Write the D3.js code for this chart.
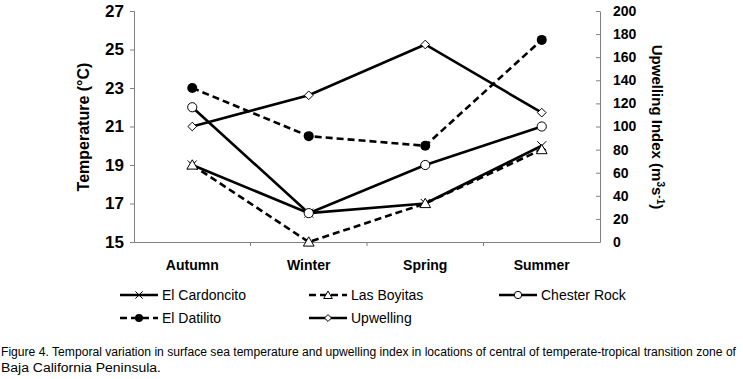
<!DOCTYPE html>
<html><head><meta charset="utf-8">
<script src="https://cdn.jsdelivr.net/npm/d3@7"></script>
<style>
body{margin:0;background:#fff;}
svg{display:block;}
</style></head>
<body>
<svg id="chart" width="743" height="379"></svg>
<script>
const seasons = ["Autumn","Winter","Spring","Summer"];
const elCardoncito = [19, 16.5, 17, 20];
const lasBoyitas = [19, 15, 17, 19.8];
const chesterRock = [22, 16.5, 19, 21];
const elDatilito = [23, 20.5, 20, 25.5];
const upwelling = [100, 127, 171, 112];
const tempTicks = [15,17,19,21,23,25,27];
const upTicks = [0,20,40,60,80,100,120,140,160,180,200];

const svg = d3.select("#chart");
const pLeft = 134, pRight = 600, pTop = 11, pBottom = 242;
const x = d3.scaleBand().domain(seasons).range([pLeft,pRight]);
const yT = d3.scaleLinear().domain([15,27]).range([pBottom,pTop]);
const yU = d3.scaleLinear().domain([0,200]).range([pBottom,pTop]);
const bold = "Liberation Sans, Arial, sans-serif";

// axes
const gL = svg.append("g").attr("transform",`translate(${pLeft},0)`)
  .call(d3.axisLeft(yT).tickValues(tempTicks).tickSize(4).tickPadding(6));
gL.selectAll("text").attr("font-family",bold).attr("font-weight","bold").attr("font-size",17).attr("fill","#000");
const gR = svg.append("g").attr("transform",`translate(${pRight},0)`)
  .call(d3.axisRight(yU).tickValues(upTicks).tickSize(0).tickPadding(13));
gR.selectAll(".tick").append("line").attr("x1",-4).attr("x2",0).attr("stroke","#808080");
gR.selectAll("text").attr("font-family",bold).attr("font-weight","bold").attr("font-size",14).attr("fill","#000");
const gB = svg.append("g").attr("transform",`translate(0,${pBottom})`)
  .call(d3.axisBottom(x).tickSize(0).tickPadding(18));
gB.selectAll("text").attr("font-family",bold).attr("font-weight","bold").attr("font-size",14).attr("fill","#000");
gB.selectAll(".bt").data(seasons.slice(1)).enter().append("line")
  .attr("x1",d=>x(d)).attr("x2",d=>x(d)).attr("y1",0).attr("y2",4).attr("stroke","#808080");
[gL,gR,gB].forEach(g=>{g.select(".domain").attr("stroke","#808080");g.selectAll(".tick line").attr("stroke","#808080");});

// axis titles
svg.append("text").attr("transform","translate(89,127) rotate(-90)").attr("text-anchor","middle")
  .attr("font-family",bold).attr("font-weight","bold").attr("font-size",16).text("Temperature (°C)");
const ut = svg.append("text").attr("transform","translate(652,127) rotate(90)").attr("text-anchor","middle")
  .attr("font-family",bold).attr("font-weight","bold").attr("font-size",15);
ut.append("tspan").text("Upwelling Index (m");
ut.append("tspan").attr("font-size",10).attr("dy",-5).text("3");
ut.append("tspan").attr("font-size",15).attr("dy",5).text("s");
ut.append("tspan").attr("font-size",10).attr("dy",-5).text("-1");
ut.append("tspan").attr("font-size",15).attr("dy",5).text(")");

const cx = d => x(d) + x.bandwidth()/2;
const series = [
  {name:"El Cardoncito", vals:elCardoncito, scale:yT, dash:null, marker:"x"},
  {name:"Las Boyitas", vals:lasBoyitas, scale:yT, dash:"7,4", marker:"tri"},
  {name:"Chester Rock", vals:chesterRock, scale:yT, dash:null, marker:"circle"},
  {name:"El Datilito", vals:elDatilito, scale:yT, dash:"7,4", marker:"dot"},
  {name:"Upwelling", vals:upwelling, scale:yU, dash:null, marker:"diamond"}
];

function drawMarker(g, type, px, py, s){
  s = s || 1;
  if(type==="x"){
    g.append("path").attr("d",`M${px-4.5*s},${py-4.5*s}L${px+4.5*s},${py+4.5*s}M${px-4.5*s},${py+4.5*s}L${px+4.5*s},${py-4.5*s}`)
      .attr("stroke","#000").attr("stroke-width",1);
  } else if(type==="tri"){
    g.append("path").attr("d",d3.symbol(d3.symbolTriangle, 50*s*s)()).attr("transform",`translate(${px},${py+1})`)
      .attr("fill","#fff").attr("stroke","#000").attr("stroke-width",1);
  } else if(type==="circle"){
    g.append("circle").attr("cx",px).attr("cy",py).attr("r",4.6*s).attr("fill","#fff").attr("stroke","#000").attr("stroke-width",1);
  } else if(type==="dot"){
    g.append("circle").attr("cx",px).attr("cy",py).attr("r",5*s).attr("fill","#000");
  } else if(type==="diamond"){
    g.append("path").attr("d",d3.symbol(d3.symbolDiamond2 || d3.symbolSquare2, 48*s*s)()).attr("transform",`translate(${px},${py})`)
      .attr("fill","#fff").attr("stroke","#000").attr("stroke-width",1);
  }
}

series.forEach(s=>{
  const line = d3.line().x((d,i)=>cx(seasons[i])).y(d=>s.scale(d));
  svg.append("path").datum(s.vals).attr("d",line).attr("fill","none").attr("stroke","#000")
    .attr("stroke-width",2.6).attr("stroke-dasharray",s.dash);
});
series.forEach(s=>{
  const g = svg.append("g");
  s.vals.forEach((v,i)=>drawMarker(g, s.marker, cx(seasons[i]), s.scale(v)));
});

// legend
const legPos = [[120,295],[309,295],[499,295],[120,318],[309,318]];
series.forEach((s,i)=>{
  const [lx,ly] = legPos[i];
  const g = svg.append("g");
  g.append("line").attr("x1",lx).attr("x2",lx+38).attr("y1",ly).attr("y2",ly)
    .attr("stroke","#000").attr("stroke-width",2.6).attr("stroke-dasharray",s.dash);
  drawMarker(g, s.marker, lx+19, ly, 0.8);
  g.append("text").attr("x",lx+42).attr("y",ly+5).attr("font-family",bold).attr("font-size",14)
    .attr("fill","#000").text(s.name);
});

// caption
const cap = svg.append("g").attr("font-family","Liberation Sans Narrow, Arial Narrow, sans-serif").attr("font-size",12).attr("fill","#000");
cap.append("text").attr("x",1).attr("y",356).attr("textLength",735).attr("lengthAdjust","spacingAndGlyphs")
  .text("Figure 4. Temporal variation in surface sea temperature and upwelling index in locations of central of temperate-tropical transition zone of");
cap.append("text").attr("x",1).attr("y",372).attr("textLength",160).attr("lengthAdjust","spacingAndGlyphs")
  .text("Baja California Peninsula.");
</script>
</body></html>
